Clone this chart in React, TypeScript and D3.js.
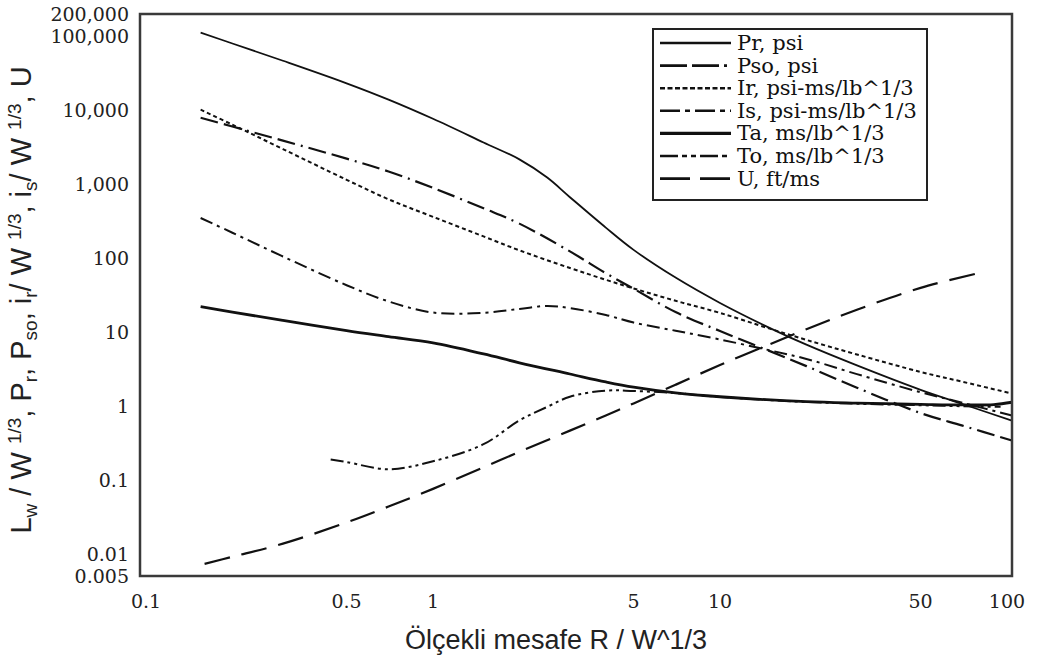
import React, { useRef, useEffect } from "react";
import * as d3 from "d3";

// scaled distance R / W^1/3 for each curve, and the values
const prR = [0.155, 0.2, 0.3, 0.5, 0.7, 1, 1.5, 2, 2.5, 3, 4, 5, 7, 10, 15, 20, 30, 50, 70, 104];
const prV = [112000, 79800, 46600, 23100, 13900, 7650, 3660, 2160, 1225, 665, 258, 129, 54.4, 24.7, 11.2, 6.73, 3.53, 1.65, 1.06, 0.63];

const psoR = [0.155, 0.2, 0.3, 0.5, 0.7, 1, 1.5, 2, 3, 4, 5, 7, 10, 15, 20, 30, 50, 70, 104];
const psoV = [7910, 6010, 3870, 2210, 1480, 889, 471, 292, 123, 62.4, 38.5, 18.6, 10.3, 5.46, 3.45, 1.76, 0.8, 0.54, 0.34];

const irR = [0.155, 0.2, 0.3, 0.5, 0.7, 1, 1.5, 2, 3, 4, 5, 7, 10, 15, 20, 30, 50, 70, 104];
const irV = [10150, 6360, 2980, 1143, 623, 361, 196, 127, 73.3, 50.8, 38.8, 26.4, 18.1, 11.0, 7.81, 4.96, 2.88, 2.12, 1.47];

const isR = [0.155, 0.2, 0.3, 0.5, 0.7, 1, 1.5, 2, 2.5, 3, 4, 5, 7, 10, 15, 20, 30, 50, 70, 104];
const isV = [348, 220, 105, 42.9, 25.9, 18.3, 18.2, 20.5, 22.5, 21.0, 17.0, 13.4, 10.4, 7.91, 5.61, 4.32, 2.69, 1.53, 1.1, 0.74];

const taR = [0.155, 0.2, 0.3, 0.5, 0.7, 1, 1.5, 2, 3, 4, 5, 7, 10, 20, 30, 50, 70, 90, 104];
const taV = [22.0, 18.6, 14.3, 10.4, 8.63, 7.1, 5.04, 3.83, 2.7, 2.11, 1.79, 1.5, 1.33, 1.14, 1.09, 1.05, 1.03, 1.04, 1.12];

const toR = [0.44, 0.5, 0.7, 1, 1.5, 2, 2.5, 3, 4, 5, 7, 10, 20, 30, 50, 70, 95];
const toV = [0.188, 0.174, 0.139, 0.178, 0.303, 0.637, 0.97, 1.33, 1.61, 1.59, 1.49, 1.32, 1.13, 1.07, 1.02, 0.99, 0.97];

const uR = [0.16, 0.2, 0.3, 0.5, 0.7, 1, 1.5, 2, 3, 4, 5, 7, 10, 15, 20, 30, 50, 80];
const uV = [0.0073, 0.0091, 0.0137, 0.0265, 0.0435, 0.0754, 0.148, 0.239, 0.463, 0.742, 1.08, 1.93, 3.57, 6.88, 10.9, 20.0, 39.5, 62.8];

const seriesNames = [
  "Pr, psi",
  "Pso, psi",
  "Ir, psi-ms/lb^1/3",
  "Is, psi-ms/lb^1/3",
  "Ta, ms/lb^1/3",
  "To, ms/lb^1/3",
  "U, ft/ms",
];

const xTicks = [0.1, 0.5, 1, 5, 10, 50, 100];
const yTicks = [200000, 100000, 10000, 1000, 100, 10, 1, 0.1, 0.01, 0.005];

const App = () => {
  const svgRef = useRef(null);

  useEffect(() => {
    const width = 1040;
    const height = 661;
    const svg = d3.select(svgRef.current);
    svg.attr("width", width).attr("height", height);
    svg.selectAll("*").remove();

    const ink = "#111";
    const serif = "DejaVu Serif, serif";

    const x = d3.scaleLog().domain([0.1, 100]).range([146, 1007]);
    const y = d3.scaleLog().domain([0.005, 200000]).range([576, 14]);

    const series = [
      { r: prR, v: prV, w: 1.8, dash: null, legendDash: null },
      { r: psoR, v: psoV, w: 2.2, dash: "18,6,18,6,2,6", legendDash: "27,5,27,5,3,5" },
      { r: irR, v: irV, w: 2, dash: "4,3", legendDash: "5,2.5" },
      { r: isR, v: isV, w: 2, dash: "13,5,3,5", legendDash: "20,5,5,5" },
      { r: taR, v: taV, w: 2.8, dash: null, legendDash: null },
      { r: toR, v: toV, w: 2, dash: "13,4,3,4,3,4", legendDash: "18,4,5,4,5,4" },
      { r: uR, v: uV, w: 2.2, dash: "26,12", legendDash: "30,10" },
    ];

    svg.append("rect").attr("width", width).attr("height", height).attr("fill", "#fff");

    const line = d3
      .line()
      .x((d) => x(d[0]))
      .y((d) => y(d[1]))
      .curve(d3.curveCatmullRom.alpha(0.5));

    series.forEach((s) => {
      svg
        .append("path")
        .attr("d", line(s.r.map((r, j) => [r, s.v[j]])))
        .attr("fill", "none")
        .attr("stroke", ink)
        .attr("stroke-width", s.w)
        .attr("stroke-dasharray", s.dash)
        .attr("stroke-linejoin", "round");
    });

    // plot frame
    svg
      .append("rect")
      .attr("x", 140)
      .attr("y", 14)
      .attr("width", 872)
      .attr("height", 562)
      .attr("fill", "none")
      .attr("stroke", "#3a3a3a")
      .attr("stroke-width", 2.5);

    // tick labels
    svg
      .selectAll(".ytick")
      .data(yTicks)
      .enter()
      .append("text")
      .attr("x", 129)
      .attr("y", (d) => y(d))
      .attr("text-anchor", "end")
      .attr("dominant-baseline", "central")
      .attr("font-family", serif)
      .attr("font-size", 19)
      .attr("fill", "#222")
      .text((d) => (d >= 1000 ? d3.format(",")(d) : String(d)));

    svg
      .selectAll(".xtick")
      .data(xTicks)
      .enter()
      .append("text")
      .attr("x", (d) => x(d))
      .attr("y", 601)
      .attr("text-anchor", "middle")
      .attr("dominant-baseline", "central")
      .attr("font-family", serif)
      .attr("font-size", 19)
      .attr("fill", "#222")
      .text((d) => String(d));

    // axis titles
    svg
      .append("text")
      .attr("x", 556)
      .attr("y", 640)
      .attr("text-anchor", "middle")
      .attr("dominant-baseline", "central")
      .attr("font-family", "Liberation Sans, sans-serif")
      .attr("font-size", 27)
      .attr("fill", "#222")
      .text("Ölçekli mesafe R / W^1/3");

    const yt = svg
      .append("text")
      .attr("transform", "translate(31,300) rotate(-90)")
      .attr("text-anchor", "middle")
      .attr("font-family", "Liberation Sans, sans-serif")
      .attr("fill", "#222");
    const parts = [
      ["L", 0], ["w", 1], [" / W ", 0], ["1/3", 2], [", P", 0], ["r", 1],
      [", P", 0], ["so", 1], [", i", 0], ["r", 1], ["/ W ", 0], ["1/3", 2],
      [", i", 0], ["s", 1], ["/ W ", 0], ["1/3", 2], [", U", 0],
    ];
    let shift = 0;
    parts.forEach(([t, k]) => {
      const target = k === 1 ? 6 : k === 2 ? -10 : 0;
      yt.append("tspan")
        .attr("dy", target - shift)
        .attr("font-size", k === 0 ? 29 : 19)
        .text(t);
      shift = target;
    });

    // legend
    const lg = svg.append("g");
    lg.append("rect")
      .attr("x", 653)
      .attr("y", 29)
      .attr("width", 274)
      .attr("height", 171)
      .attr("fill", "#fff")
      .attr("stroke", "#222")
      .attr("stroke-width", 2);
    series.forEach((s, i) => {
      const ly = 43 + i * 22.6;
      lg.append("line")
        .attr("x1", 660)
        .attr("x2", 731)
        .attr("y1", ly)
        .attr("y2", ly)
        .attr("stroke", ink)
        .attr("stroke-width", s.w + 0.6)
        .attr("stroke-dasharray", s.legendDash);
      lg.append("text")
        .attr("x", 737)
        .attr("y", ly)
        .attr("dominant-baseline", "central")
        .attr("font-family", serif)
        .attr("font-size", 21)
        .attr("fill", "#111")
        .text(seriesNames[i]);
    });
  }, []);

  return <svg ref={svgRef} style={{ position: "absolute", left: 0, top: 0 }} />;
};

export default App;
